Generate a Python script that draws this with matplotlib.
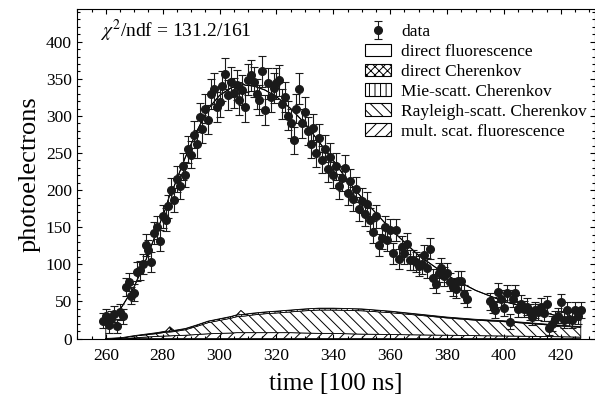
import numpy as np
import matplotlib
matplotlib.use("Agg")
import matplotlib.pyplot as plt
from matplotlib.patches import Patch

plt.rcParams["font.family"] = ["Liberation Serif", "DejaVu Serif"]
plt.rcParams["mathtext.fontset"] = "stix"
plt.rcParams["hatch.linewidth"] = 0.7

# --- measured photoelectrons per 100 ns bin ------------------------------- #
time = np.array(list(range(259, 388)) + list(range(395, 428)))
counts = np.array([
    24, 30, 18, 27, 33, 17, 36, 30, 69, 76,      # 259-268
    58, 62, 90, 92, 101, 126, 119, 103, 142, 150,  # 269-278
    132, 165, 160, 178, 200, 187, 215, 205, 232, 221,  # 279-288
    255, 248, 275, 262, 298, 282, 310, 295, 330, 337,  # 289-298
    312, 319, 340, 357, 328, 346, 331, 342, 322, 335,  # 299-308
    312, 349, 355, 346, 330, 322, 360, 308, 344, 326,  # 309-318
    338, 344, 348, 316, 326, 300, 290, 267, 310, 337,  # 319-328
    290, 306, 280, 262, 284, 250, 270, 241, 256, 228,  # 329-338
    245, 220, 232, 205, 216, 230, 196, 212, 188, 201,  # 339-348
    175, 186, 168, 182, 160, 144, 165, 126, 135, 150,  # 349-358
    133, 146, 115, 146, 107, 124, 115, 128, 106, 106,  # 359-368
    103, 98, 101, 112, 95, 121, 81, 74, 89, 95,        # 369-378
    84, 89, 76, 70, 67, 78, 78, 60, 54,                # 379-387
    50, 45, 38, 63, 54, 41, 61, 23, 54, 61,            # 395-404
    40, 47, 40, 43, 36, 29, 38, 36, 43, 34,            # 405-414
    46, 14, 20, 27, 31, 49, 25, 38, 27, 25,            # 415-424
    39, 30, 38,                                        # 425-427
])
bkg_var = 80.0
yerr = np.sqrt(counts + bkg_var)

# --- fitted model components (stacked, bottom to top) --------------------- #
model_t = [260, 262, 266, 270, 274, 278, 281, 282.5, 284, 288, 292, 296, 300,
           304, 306, 307.5, 309, 312, 316, 320, 325, 330, 335, 340, 345, 350,
           360, 370, 380, 390, 400, 410, 420, 427]
mult_fluor = [0, 0, 0.3, 1, 2, 3, 3.5, 3.7, 4, 4.5, 5.5, 6.5, 7,
              7.5, 8, 8, 8, 8, 8, 8, 8, 7.5, 7, 7, 6.5, 6,
              5.5, 5, 4.5, 4, 3.5, 3, 2.5, 2]
rayleigh_ch = [0.2, 0.5, 1, 2.5, 3, 3.8, 5, 5.2, 5.4, 7.5, 11, 15, 17.5,
               20, 21.5, 22, 22.5, 24, 25.5, 26.5, 28, 30, 31.5, 31.5, 31.5, 31.5,
               29.5, 26.5, 23.3, 20.8, 19.3, 17, 14.5, 13]
mie_ch = [0, 0, 0.2, 0.5, 1, 1.2, 1.3, 1.3, 1.4, 1.6, 1.9, 2.1, 2.2,
          2.3, 2.3, 2.3, 2.3, 2.4, 2.4, 2.5, 2.5, 2.5, 2.5, 2.5, 2.5, 2.5,
          2, 1.5, 1.2, 1.2, 1.2, 1, 1, 1]
direct_ch = [0, 0, 0, 0, 0, 0, 0.2, 5.8, 0.2, 0, 0, 0, 0,
             0, 0.2, 5.7, 0.2, 0, 0, 0, 0, 0, 0, 0, 0, 0,
             0, 0, 0, 0, 0, 0, 0, 0]
direct_fluor = [18, 21.5, 43.5, 66, 99, 137, 165, 178, 194, 231, 261, 286, 301,
                308, 308, 307, 308.5, 306, 299, 289, 271.5, 250, 224, 199, 172.5, 150,
                111, 79, 56, 39, 26, 19, 11, 9]

chi2_text = r"$\chi^2$/ndf = 131.2/161"
components = [
    ("direct fluorescence", direct_fluor, ""),
    ("direct Cherenkov", direct_ch, "xxxx"),
    ("Mie-scatt. Cherenkov", mie_ch, "|||"),
    ("Rayleigh-scatt. Cherenkov", rayleigh_ch, "\\\\\\"),
    ("mult. scat. fluorescence", mult_fluor, "///"),
]

fig = plt.figure(figsize=(5.95, 3.96), dpi=100)
ax = fig.add_axes([0.130, 0.145, 0.870, 0.832])

# stack from the bottom (last in legend) upwards
base = np.zeros(len(model_t))
for name, vals, hatch in reversed(components):
    top = base + np.asarray(vals, float)
    ax.fill_between(model_t, base, top, facecolor="white", edgecolor="black",
                    hatch=hatch, linewidth=0.6, zorder=1)
    base = top
ax.plot(model_t, base, color="black", linewidth=0.8, zorder=2)

data = ax.errorbar(time, counts, yerr=yerr, fmt="o", color="#1a1a1a",
                   markersize=5.5, elinewidth=0.8, capsize=3, capthick=0.8,
                   zorder=3, label="data")

ax.set_xlim(250, 432)
ax.set_ylim(0, 444)
ax.set_xticks(np.arange(260, 421, 20))
ax.set_xticks(np.arange(250, 432, 5), minor=True)
ax.set_yticks(np.arange(0, 401, 50))
ax.set_yticks(np.arange(0, 444, 10), minor=True)
ax.tick_params(which="both", direction="in", top=True, right=True,
               labelsize=12.5, width=0.8)
ax.tick_params(which="major", length=3.6)
ax.tick_params(which="minor", length=2)
ax.tick_params(axis="x", pad=7)
ax.tick_params(axis="y", pad=4)
for s in ax.spines.values():
    s.set_linewidth(0.8)

ax.set_xlabel("time [100 ns]", fontsize=18, labelpad=6)
ax.set_ylabel("photoelectrons", fontsize=19, labelpad=4)

fig.text(100 / 595, 1 - 31 / 396, chi2_text, fontsize=14, va="center")

handles = [data] + [Patch(facecolor="white", edgecolor="black", hatch=h,
                          linewidth=0.8) for _, _, h in components]
labels = ["data"] + [n for n, _, _ in components]
ax.legend(handles, labels, loc="upper left", bbox_to_anchor=(0.613, 0.94),
          bbox_transform=fig.transFigure, frameon=False, fontsize=12.5,
          handlelength=1.5, handleheight=0.75, handletextpad=0.6,
          labelspacing=0.2, borderpad=0, borderaxespad=0)

fig.savefig("out.png", dpi=100)
